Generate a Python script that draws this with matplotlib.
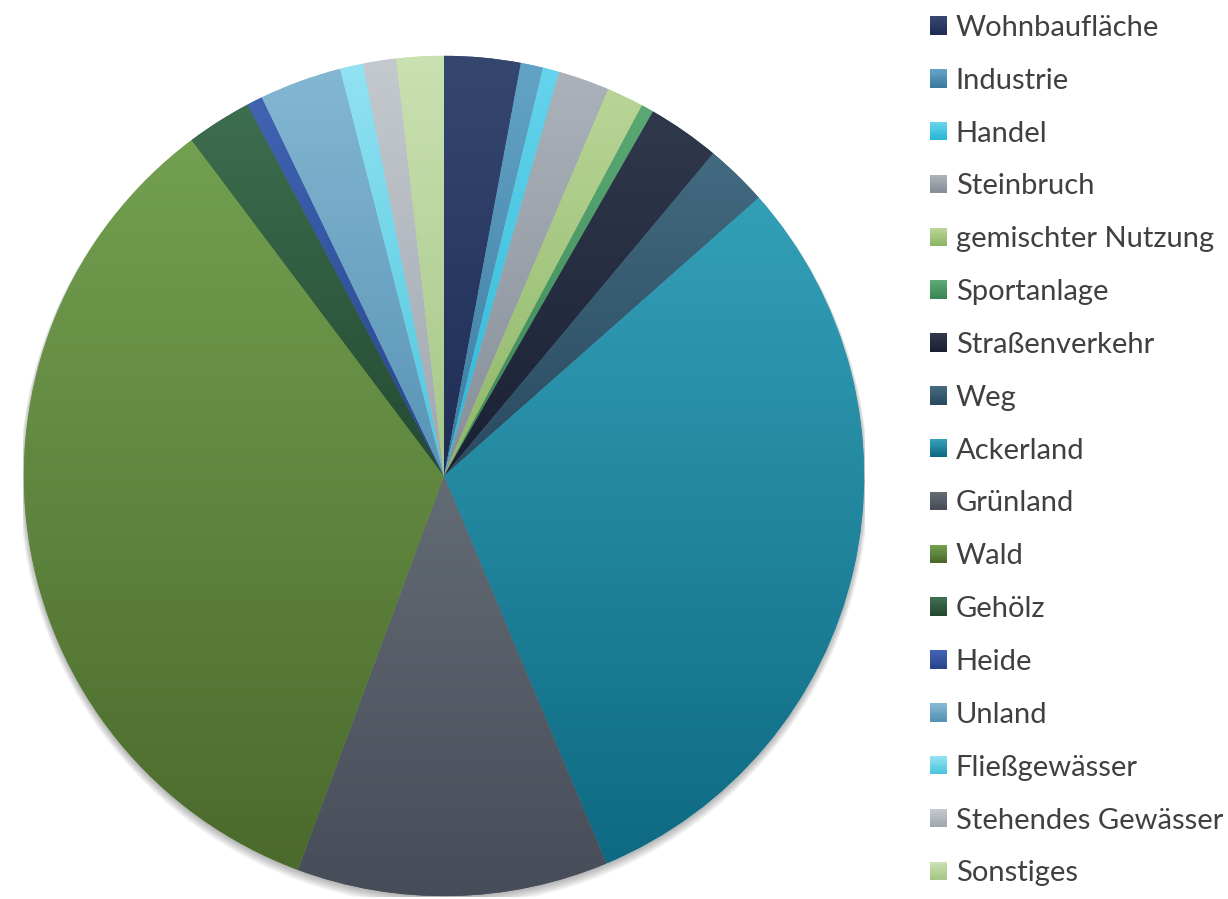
import numpy as np
import matplotlib.pyplot as plt
from matplotlib.colors import LinearSegmentedColormap
from matplotlib.patches import Circle, Rectangle
from matplotlib.legend_handler import HandlerBase

plt.rcParams['font.family'] = ['Lato', 'DejaVu Sans']

labels = ['Wohnbaufläche', 'Industrie', 'Handel', 'Steinbruch', 'gemischter Nutzung',
          'Sportanlage', 'Straßenverkehr', 'Weg', 'Ackerland', 'Grünland', 'Wald',
          'Gehölz', 'Heide', 'Unland', 'Fließgewässer', 'Stehendes Gewässer', 'Sonstiges']
shares = [2.93, 0.86, 0.63, 1.97, 1.42, 0.48, 2.78, 2.41, 30.21, 11.98, 34.09,
          2.51, 0.61, 3.16, 0.89, 1.27, 1.82]

# light (top) and dark (bottom) end of each gradient fill
top_cols = ['#36476f', '#62a3c6', '#66d4ec', '#abb2ba', '#b8d596', '#5aa874', '#30384c',
            '#426a80', '#33a0b8', '#636b75', '#73a050', '#3d6e4e', '#4063b2', '#84b7d2',
            '#92e2f2', '#c4c9ce', '#cae1b2']
bot_cols = ['#1f2d55', '#3d7ca0', '#2bb6d6', '#868e98', '#8fb768', '#3b8756', '#1b2134',
            '#2a4a60', '#0e6a82', '#474d58', '#4b6a2c', '#244a33', '#28468c', '#5893b6',
            '#4cc6de', '#a0a7b0', '#a5c787']
text_col = '#404040'

fig = plt.figure(figsize=(12.28, 8.99), dpi=100)
ax = fig.add_axes([23 / 1228, 2 / 899, 842 / 1228, 842 / 899])

wedges, _ = ax.pie(shares, startangle=90, counterclock=False, radius=1,
                   colors=top_cols, wedgeprops=dict(linewidth=0))

# soft shadow under the pie
for k in range(6):
    sh = Circle((0, -0.004 - 0.002 * k), 1.0 + 0.002 * k, color='black',
                alpha=0.05, zorder=0, linewidth=0)
    ax.add_patch(sh)

grad = np.linspace(0, 1, 256).reshape(-1, 1)
for w, c1, c2 in zip(wedges, top_cols, bot_cols):
    ext = w.get_path().get_extents()
    cmap = LinearSegmentedColormap.from_list('g', [c1, c2])
    im = ax.imshow(grad, cmap=cmap, aspect='auto', origin='upper',
                   extent=[ext.x0, ext.x1, ext.y0, ext.y1], zorder=2,
                   interpolation='bilinear')
    im.set_clip_path(w)

ax.set_xlim(-1.002, 1.002)
ax.set_ylim(-1.002, 1.002)
ax.set_aspect('equal')
ax.axis('off')


class GradHandler(HandlerBase):
    def __init__(self, c1, c2):
        super().__init__()
        self.c1, self.c2 = c1, c2

    def create_artists(self, legend, orig_handle, xdescent, ydescent, width, height,
                       fontsize, trans):
        arts = []
        n = 8
        c1 = np.array(plt.matplotlib.colors.to_rgb(self.c1))
        c2 = np.array(plt.matplotlib.colors.to_rgb(self.c2))
        for i in range(n):
            t = i / (n - 1)
            col = c1 * (1 - t) + c2 * t
            r = Rectangle((-xdescent, -ydescent + height * (1 - (i + 1) / n)),
                          width, height / n + 0.3, facecolor=col, linewidth=0,
                          transform=trans)
            arts.append(r)
        return arts


handler_map = {w: GradHandler(c1, c2) for w, c1, c2 in zip(wedges, top_cols, bot_cols)}
leg = fig.legend(wedges, labels, loc='upper left', bbox_to_anchor=(930 / 1228, 1 - 15 / 899),
                 frameon=False, fontsize=21, labelspacing=0.92, handlelength=0.58,
                 handleheight=0.58, handletextpad=0.3, borderaxespad=0, borderpad=0,
                 handler_map=handler_map)
for t in leg.get_texts():
    t.set_color(text_col)

fig.savefig('out.png', dpi=100)
